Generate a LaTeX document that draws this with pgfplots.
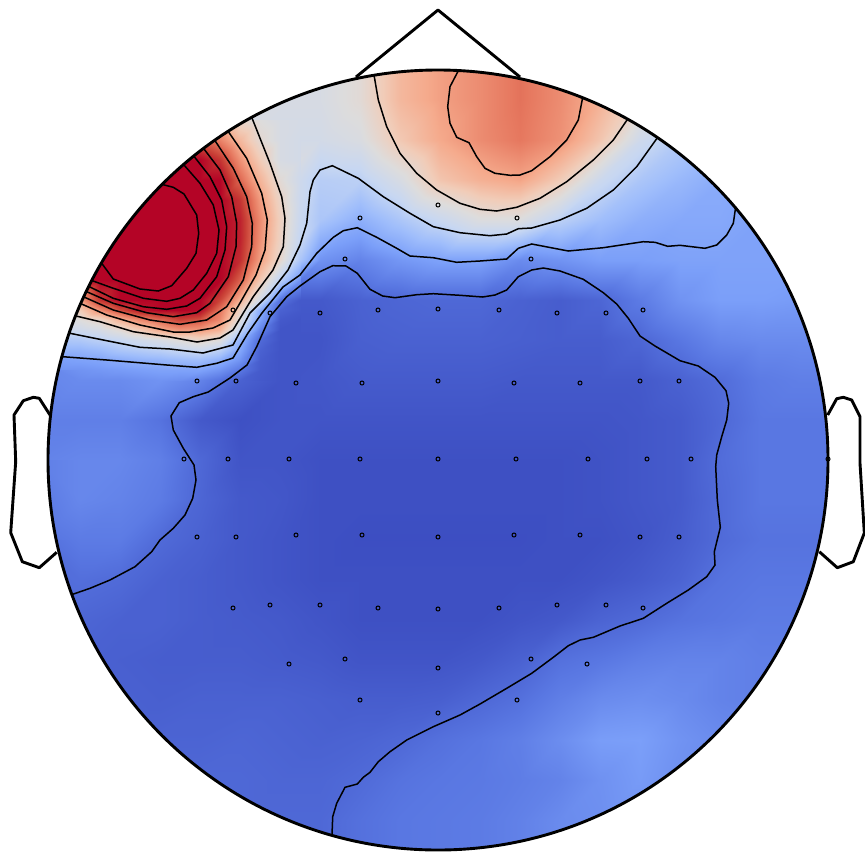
\documentclass[border=0pt]{standalone}
\usepackage{pgfplots}
\pgfplotsset{compat=1.18}
\pgfplotsset{
  ct/.style={black,line width=0.75pt,no marks,forget plot},
  hd/.style={black,line width=1.45pt,no marks,forget plot,line join=round},
  fld/.style={surf,shader=interp,mesh/ordering=x varies,forget plot},
}
\begin{document}
\begin{tikzpicture}
\begin{axis}[
  hide axis,scale only axis,width=432.5pt,height=425.5pt,
  xmin=0,xmax=865,ymin=0,ymax=851,y dir=reverse,
  point meta min=0,point meta max=1,
  colormap={cw}{rgb255=(59,76,192) rgb255=(89,119,226) rgb255=(123,159,249)
    rgb255=(160,190,251) rgb255=(199,215,242) rgb255=(221,220,220)
    rgb255=(241,204,184) rgb255=(245,170,140) rgb255=(230,120,95)
    rgb255=(201,64,54) rgb255=(180,4,38)},
]
% whole head, 40 px grid, x 40..840, y 60..820 and a last row at 849
\addplot[fld,mesh/cols=21,point meta=explicit] table[row sep=crcr,header=false,meta index=0,
  x expr={40+40*mod(\coordindex,21)},y expr={min(60+40*floor(\coordindex/21),849)}] {
0.47\\0.47\\0.47\\0.47\\0.47\\0.47\\0.47\\0.47\\0.52\\0.66\\0.72\\0.76\\0.81\\0.76\\0.68\\0.55\\0.50\\0.45\\0.40\\0.40\\0.40\\
0.47\\0.47\\0.47\\0.47\\0.47\\0.47\\0.47\\0.47\\0.52\\0.66\\0.72\\0.76\\0.81\\0.76\\0.68\\0.55\\0.50\\0.45\\0.40\\0.40\\0.40\\
0.47\\0.47\\0.47\\0.47\\0.47\\0.47\\0.45\\0.45\\0.48\\0.61\\0.70\\0.76\\0.80\\0.75\\0.62\\0.43\\0.35\\0.30\\0.30\\0.30\\0.30\\
0.90\\0.90\\0.90\\0.90\\0.90\\0.90\\0.50\\0.36\\0.37\\0.47\\0.62\\0.68\\0.71\\0.60\\0.42\\0.33\\0.28\\0.24\\0.22\\0.22\\0.22\\
0.90\\0.90\\0.90\\0.90\\0.90\\0.90\\0.49\\0.33\\0.25\\0.33\\0.41\\0.49\\0.49\\0.37\\0.30\\0.25\\0.23\\0.23\\0.21\\0.21\\0.21\\
0.90\\0.90\\0.90\\0.90\\0.90\\0.90\\0.49\\0.17\\0.13\\0.18\\0.21\\0.21\\0.15\\0.17\\0.20\\0.20\\0.21\\0.21\\0.21\\0.21\\0.21\\
0.90\\0.90\\0.90\\0.90\\0.90\\0.90\\0.03\\0.03\\0.05\\0.06\\0.065\\0.065\\0.05\\0.04\\0.06\\0.11\\0.17\\0.20\\0.20\\0.19\\0.19\\
0.50\\0.50\\0.50\\0.50\\0.50\\0.50\\0.02\\0.02\\0.045\\0.05\\0.05\\0.05\\0.045\\0.04\\0.04\\0.06\\0.10\\0.14\\0.15\\0.15\\0.15\\
0.15\\0.15\\0.15\\0.17\\0.13\\0.05\\0.02\\0.025\\0.035\\0.035\\0.035\\0.035\\0.03\\0.03\\0.03\\0.03\\0.05\\0.075\\0.11\\0.12\\0.12\\
0.12\\0.12\\0.12\\0.09\\0.03\\0.01\\0.02\\0.02\\0.02\\0.02\\0.02\\0.02\\0.02\\0.02\\0.02\\0.025\\0.035\\0.065\\0.10\\0.10\\0.10\\
0.13\\0.14\\0.14\\0.12\\0.065\\0.02\\0.02\\0.01\\0.01\\0.01\\0.01\\0.01\\0.01\\0.01\\0.015\\0.025\\0.035\\0.075\\0.10\\0.10\\0.10\\
0.12\\0.14\\0.13\\0.11\\0.06\\0.03\\0.025\\0.01\\0.01\\0.01\\0.01\\0.01\\0.01\\0.01\\0.015\\0.025\\0.035\\0.07\\0.10\\0.10\\0.10\\
0.09\\0.11\\0.11\\0.07\\0.05\\0.03\\0.02\\0.01\\0.005\\0.005\\0.005\\0.005\\0.005\\0.01\\0.01\\0.02\\0.04\\0.07\\0.09\\0.09\\0.09\\
0.08\\0.08\\0.07\\0.05\\0.04\\0.03\\0.02\\0.01\\0.01\\0.01\\0.01\\0.01\\0.01\\0.01\\0.02\\0.035\\0.055\\0.09\\0.10\\0.10\\0.10\\
0.06\\0.06\\0.05\\0.05\\0.04\\0.035\\0.03\\0.02\\0.01\\0.01\\0.01\\0.01\\0.02\\0.03\\0.055\\0.07\\0.09\\0.10\\0.11\\0.11\\0.11\\
0.05\\0.05\\0.045\\0.04\\0.04\\0.04\\0.035\\0.03\\0.02\\0.02\\0.02\\0.03\\0.05\\0.085\\0.10\\0.12\\0.13\\0.13\\0.12\\0.12\\0.12\\
0.05\\0.05\\0.05\\0.045\\0.05\\0.05\\0.05\\0.045\\0.04\\0.04\\0.045\\0.065\\0.085\\0.12\\0.15\\0.16\\0.15\\0.13\\0.12\\0.12\\0.12\\
0.055\\0.055\\0.055\\0.055\\0.055\\0.06\\0.055\\0.05\\0.055\\0.065\\0.085\\0.10\\0.12\\0.155\\0.195\\0.20\\0.17\\0.15\\0.12\\0.12\\0.12\\
0.065\\0.065\\0.065\\0.065\\0.065\\0.065\\0.06\\0.06\\0.07\\0.09\\0.10\\0.105\\0.115\\0.13\\0.165\\0.19\\0.16\\0.15\\0.12\\0.12\\0.12\\
0.065\\0.065\\0.065\\0.065\\0.065\\0.065\\0.065\\0.065\\0.085\\0.10\\0.105\\0.11\\0.125\\0.15\\0.16\\0.16\\0.15\\0.15\\0.15\\0.15\\0.15\\
0.065\\0.065\\0.065\\0.065\\0.065\\0.065\\0.065\\0.065\\0.085\\0.10\\0.105\\0.11\\0.125\\0.15\\0.16\\0.16\\0.15\\0.15\\0.15\\0.15\\0.15\\
};
% frontal left peak, 20 px grid, x 60..300, y 120..300
\addplot[fld,mesh/cols=13,point meta=explicit] table[row sep=crcr,header=false,meta index=0,
  x expr={60+20*mod(\coordindex,13)},y expr={120+20*floor(\coordindex/13)}] {
0.60\\0.60\\0.60\\0.60\\0.60\\0.60\\0.60\\0.60\\0.60\\0.55\\0.50\\0.47\\0.46\\
0.85\\0.85\\0.85\\0.85\\0.85\\0.85\\0.85\\0.85\\0.78\\0.66\\0.53\\0.47\\0.45\\
1\\1\\1\\1\\1\\1\\1\\1\\0.92\\0.75\\0.60\\0.47\\0.45\\
1\\1\\1\\1\\1\\1\\1\\1\\1\\0.83\\0.67\\0.52\\0.43\\
1\\1\\1\\1\\1\\1\\1\\1\\1\\0.92\\0.73\\0.56\\0.42\\
1\\1\\1\\1\\1\\1\\1\\1\\1\\0.95\\0.76\\0.58\\0.41\\
1\\1\\1\\1\\1\\1\\1\\1\\1\\0.95\\0.75\\0.57\\0.39\\
1\\1\\1\\1\\1\\1\\1\\1\\1\\0.93\\0.72\\0.54\\0.33\\
1\\1\\1\\1\\1\\1\\1\\1\\1\\0.84\\0.61\\0.37\\0.17\\
0.60\\0.72\\0.92\\1\\1\\1\\1\\1\\0.89\\0.68\\0.44\\0.09\\0.03\\
};
% underside of the peak, 10 px rows, y 300..380
\addplot[fld,mesh/cols=13,point meta=explicit] table[row sep=crcr,header=false,meta index=0,
  x expr={60+20*mod(\coordindex,13)},y expr={300+10*floor(\coordindex/13)}] {
0.60\\0.72\\0.92\\1\\1\\1\\1\\1\\0.89\\0.68\\0.44\\0.09\\0.03\\
0.52\\0.60\\0.76\\0.88\\0.97\\1\\1\\0.99\\0.80\\0.57\\0.24\\0.05\\0.03\\
0.45\\0.50\\0.55\\0.67\\0.76\\0.82\\0.89\\0.86\\0.76\\0.49\\0.20\\0.03\\0.02\\
0.42\\0.43\\0.46\\0.52\\0.60\\0.69\\0.74\\0.73\\0.67\\0.39\\0.13\\0.02\\0.02\\
0.33\\0.34\\0.37\\0.40\\0.44\\0.47\\0.51\\0.55\\0.50\\0.26\\0.07\\0.02\\0.02\\
0.27\\0.27\\0.29\\0.33\\0.35\\0.37\\0.40\\0.42\\0.37\\0.22\\0.05\\0.02\\0.02\\
0.20\\0.21\\0.22\\0.24\\0.26\\0.27\\0.29\\0.30\\0.25\\0.17\\0.04\\0.02\\0.02\\
0.17\\0.17\\0.18\\0.19\\0.20\\0.21\\0.21\\0.21\\0.17\\0.10\\0.035\\0.02\\0.02\\
0.15\\0.15\\0.15\\0.15\\0.16\\0.17\\0.16\\0.13\\0.09\\0.05\\0.03\\0.02\\0.02\\
};
% everything outside the head circle is white
\fill[white,even odd rule] (axis cs:0,0) rectangle (axis cs:865,851)
  (axis cs:438,460) circle [radius=390];

% contours around the left peak
\addplot[ct] coordinates {(161.7,184.3)(173.3,187.3)(184,194)(196.7,215)(198.7,233.3)(196,253.3)(186.7,268.3)(171.7,285.7)(158.3,291)(140,289)(113.3,279)(101.7,263.3)};
\addplot[ct] coordinates {(184,165)(200,183.3)(213.3,205)(219,230)(216.7,253.3)(206.7,273.3)(193.3,290)(180,298.3)(166.7,301.3)(143.3,298.3)(113.3,288.3)(92.3,280.7)};
\addplot[ct] coordinates {(194.3,156.7)(210,176.7)(221.7,200)(226.7,226.7)(225,250)(216.7,276.7)(200,298.3)(186.7,306)(166.7,309.3)(143.3,306.7)(113.3,298.3)(89.3,286.7)};
\addplot[ct] coordinates {(204,149)(220,170)(231.7,196.7)(236.7,223.3)(236,246.7)(228.3,276.7)(210,303.3)(196.7,312.7)(173.3,316.7)(146.7,312.7)(113.3,303.3)(86.7,291.7)};
\addplot[ct] coordinates {(215,140.7)(233.3,168.3)(246.7,196.7)(252.3,223.3)(251.7,246.7)(243.3,280)(226.7,306.7)(206.7,320)(180,324.3)(150,320)(113.3,310)(83.3,296.7)};
\addplot[ct] coordinates {(227.7,130.7)(246.7,158.3)(261.7,193.3)(267.3,220)(265,250)(256,275)(240,303)(230,320)(213,328)(190,332)(173.3,332)(140,325)(106.7,315)(80,303.3)};
\addplot[ct] coordinates {(251.7,117.3)(270,163.3)(281.7,196.7)(285,218.3)(283.3,246.7)(273,270)(253,297)(233,330)(220,338)(197,342)(170,337)(133.3,331.7)(100,321.7)(76,316)};
% long contours across the head
\addplot[ct] coordinates {(70,333.3)(106.7,340.7)(140,347.3)(170,349)(203,353)(233,345)(250,313)(270,293)(288,270)(300,245)(306.7,223.3)(310,191.7)(313.3,180)(320,170)(332.3,165.7)(358.3,178.3)(383.3,196.7)(410,213.3)(433.3,226.7)(460,232.7)(490,235.7)(506.7,234)(518.3,228.7)(531.7,228)(560,220)(586.7,208.3)(613.3,190)(636.7,166.7)(657.7,137.3)};
\addplot[ct] coordinates {(62.7,356.7)(106.7,360)(166.7,365)(196.7,367.3)(216.7,363.3)(233,358)(248,333)(262,313)(283,287)(300,275)(316.7,253.3)(333.3,237.3)(343.3,230.7)(357.3,227.7)(376.7,237.3)(396.7,248.3)(410,256)(433.3,257.7)(456.7,262.3)(480,261)(506.7,259)(518.3,248.3)(531.7,244)(568.3,251)(603.3,247.7)(643.3,241.7)(655,242.3)(667.7,246.3)(680,245.3)(705,248.3)(716.7,245)(726.7,235)(733.3,223.3)(735.7,206.7)};
\addplot[ct] coordinates {(72.7,594.3)(90,588.3)(110,580)(135,566.7)(151.7,551.7)(160,540)(173.3,528.3)(185,515)(192.7,498.3)(196,480)(194,465)(183.3,448.3)(173.3,430)(171,416)(179.3,402.7)(193.3,396.7)(208.3,392)(230,378)(247,365)(256.7,346.7)(270,316.7)(286.7,296.7)(300,286)(320,271.7)(332.7,265.7)(346,266)(357.3,273.3)(370,289.3)(382.7,296)(395,297.7)(416.7,294.7)(433.3,293.7)(460,295.3)(482.7,297)(495,295)(506.7,290)(518.3,276.7)(531.7,270)(543.3,268)(560,271)(583.3,279.3)(603.3,292.7)(616.7,304)(628.3,318.3)(640,336)(655,346)(680,360.7)(698.3,366)(715,377.3)(726,390.7)(728.7,403.3)(726.7,420)(721.7,436.7)(716.7,455)(715.7,466.7)(717.3,500)(720.3,527.3)(714.3,551.7)(715,565)(706.7,576.7)(688.3,590)(666.7,603.3)(643.3,618.3)(620,626)(593.3,637.3)(580,640)(568.3,645.7)(553.3,657.3)(531.7,673.3)(506.7,688.3)(480,704)(460,715)(433.3,726.7)(406.7,740)(390,751.7)(378.3,761.7)(370,772.3)(363.3,777.3)(357.3,784)(345,787.3)(336.7,803.3)(332.7,816.7)(332,835)};
% frontal contours
\addplot[ct] coordinates {(374,75)(378.3,100)(386.7,126.7)(400,153.3)(416.7,173.3)(436.7,190)(460,203.3)(480,209.3)(496.7,211)(516.7,207.3)(540,198.3)(566.7,181.7)(593.3,160)(613.3,140)(627.7,119)};
\addplot[ct] coordinates {(458.7,70)(450,86.7)(447.7,106.7)(450,123.3)(456.7,137.3)(469,142.7)(476.7,156.7)(485,168.3)(495,173.3)(510,175.3)(520,175)(531.7,170.7)(550,156.7)(566.7,140)(578.3,120)(582.7,97.3)};

% sensors
\addplot[only marks,mark=o,mark size=1pt,mark options={black,line width=0.5pt},forget plot] coordinates {
(438,205)(360,218)(517,218)(345,259)(531,259)
(233,310)(270,313)(320,313)(378,310)(438,309)(499,310)(557,313)(606,313)(643,310)
(197,381)(236,381)(296,383)(362,383)(438,381)(514,383)(580,383)(640,381)(679,381)
(184,459)(228,459)(289,459)(360,459)(438,459)(516,459)(588,459)(647,459)(691,459)(828,459)
(197,537)(236,537)(296,535)(362,535)(438,537)(514,535)(580,535)(640,537)(679,537)
(233,608)(270,605)(320,605)(378,608)(438,609)(499,608)(557,605)(606,605)(643,608)
(289,664)(345,659)(438,668)(531,659)(587,664)
(360,700)(438,713)(517,700)};

% head outline
\draw[black,line width=1.45pt] (axis cs:438,460) circle [radius=390];
\addplot[hd] coordinates {(356,77)(438,10)(520,77)};
\addplot[hd] coordinates {(50,415)(39.3,398.3)(33.3,397.3)(23.3,400.7)(14,415)(15.7,461.7)(10.7,532.7)(22.3,561.7)(39.3,567.7)(56.7,552.3)};
\addplot[hd] coordinates {(827.7,415)(836.7,398.7)(843.3,397.3)(851.7,400)(860,416.7)(860,463.3)(864.3,533)(853.3,561.7)(837.3,567.7)(819.3,551.7)};
\end{axis}
\end{tikzpicture}
\end{document}
